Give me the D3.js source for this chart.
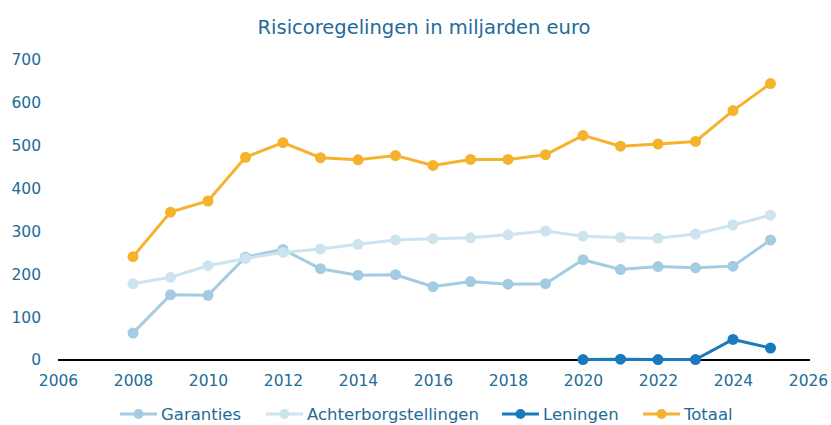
<!DOCTYPE html>
<html>
<head>
<meta charset="utf-8">
<script src="https://cdn.jsdelivr.net/npm/d3@7"></script>
<style>
  body { margin: 0; background: #fff; }
  svg { font-family: "DejaVu Sans", Verdana, sans-serif; }
</style>
</head>
<body>
<svg width="831" height="425"></svg>
<script>
const years = d3.range(2008, 2026);
const garanties = [63, 152, 151, 240, 258, 213, 198, 199, 171, 183, 177, 178, 234, 211, 218, 215, 219, 280];
const achterborg = [178, 193, 220, 237, 251, 259, 270, 280, 283, 285, 292, 301, 289, 286, 284, 294, 315, 338];
const leningYears = [2020, 2021, 2022, 2023, 2024, 2025];
const leningen = [1, 2, 1, 1, 48, 28];
const totaal = [241, 345, 371, 473, 507, 472, 467, 477, 454, 468, 468, 479, 524, 499, 504, 510, 582, 645];
const xTicks = d3.range(2006, 2027, 2);
const yTicks = [0, 100, 200, 300, 400, 500, 600, 700];

const textColor = "#236b97";

const series = [
  {name: "Garanties", x: years, y: garanties, color: "#a3cce3"},
  {name: "Achterborgstellingen", x: years, y: achterborg, color: "#cde3f0"},
  {name: "Leningen", x: leningYears, y: leningen, color: "#1b79bd"},
  {name: "Totaal", x: years, y: totaal, color: "#f5b32d"}
];

const svg = d3.select('svg');

const x = d3.scaleLinear().domain([2006, 2026]).range([58, 808]);
const y = d3.scaleLinear().domain([0, 700]).range([360, 60]);

svg.append('text')
  .attr('x', 424).attr('y', 34)
  .attr('text-anchor', 'middle')
  .attr('fill', textColor)
  .style('font-size', '19.5px')
  .text('Risicoregelingen in miljarden euro');

// y axis labels, no line
const yAxis = svg.append('g')
  .attr('transform', 'translate(47,0)')
  .call(d3.axisLeft(y).tickValues(yTicks).tickSize(0).tickPadding(6));
yAxis.select('.domain').remove();
yAxis.selectAll('text').attr('fill', textColor).style('font-size', '15.5px').style('font-family', '"DejaVu Sans", Verdana, sans-serif');

const xAxis = svg.append('g')
  .attr('transform', 'translate(0,372)')
  .call(d3.axisBottom(x).tickValues(xTicks).tickFormat(d3.format('d')).tickSize(0).tickPadding(3));
xAxis.select('.domain').remove();
xAxis.selectAll('text').attr('fill', textColor).style('font-size', '15.5px').style('font-family', '"DejaVu Sans", Verdana, sans-serif');

// zero line
svg.append('line')
  .attr('x1', x(2006)).attr('x2', x(2026) + 2)
  .attr('y1', y(0)).attr('y2', y(0))
  .attr('stroke', '#000').attr('stroke-width', 2);

const line = d3.line().x(d => x(d[0])).y(d => y(d[1]));

series.forEach(s => {
  const pts = s.x.map((v, i) => [v, s.y[i]]);
  const g = svg.append('g');
  g.append('path')
    .attr('d', line(pts))
    .attr('fill', 'none')
    .attr('stroke', s.color)
    .attr('stroke-width', 3);
  g.selectAll('circle').data(pts).enter().append('circle')
    .attr('cx', d => x(d[0]))
    .attr('cy', d => y(d[1]))
    .attr('r', 5.5)
    .attr('fill', s.color);
});

// legend
const legendX = [120, 266, 502, 643];
const leg = svg.append('g').attr('transform', 'translate(0,414)');
series.forEach((s, i) => {
  const g = leg.append('g').attr('transform', `translate(${legendX[i]},0)`);
  g.append('line').attr('x1', 0).attr('x2', 37).attr('y1', 0).attr('y2', 0)
    .attr('stroke', s.color).attr('stroke-width', 3);
  g.append('circle').attr('cx', 18.5).attr('cy', 0).attr('r', 5).attr('fill', s.color);
  g.append('text').attr('x', 41).attr('y', 0).attr('dy', '0.35em')
    .attr('fill', textColor).style('font-size', '16.5px')
    .text(s.name);
});
</script>
</body>
</html>
